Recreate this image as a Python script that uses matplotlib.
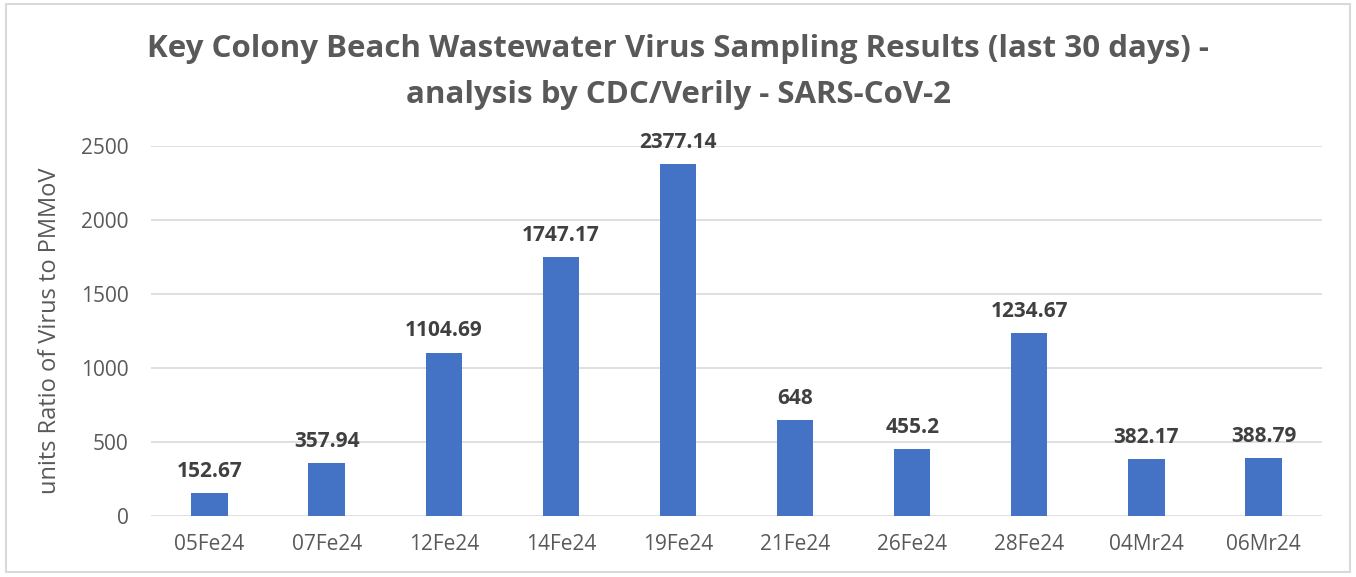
import matplotlib.pyplot as plt
from matplotlib.patches import Rectangle

dates = ['05Fe24', '07Fe24', '12Fe24', '14Fe24', '19Fe24', '21Fe24',
         '26Fe24', '28Fe24', '04Mr24', '06Mr24']
values = [152.67, 357.94, 1104.69, 1747.17, 2377.14, 648,
          455.2, 1234.67, 382.17, 388.79]
labels = ['152.67', '357.94', '1104.69', '1747.17', '2377.14', '648',
          '455.2', '1234.67', '382.17', '388.79']
yticks = [0, 500, 1000, 1500, 2000, 2500]

plt.rcParams['font.family'] = ['Open Sans', 'DejaVu Sans']

fig = plt.figure(figsize=(13.56, 5.77), dpi=100)
ax = fig.add_axes([151 / 1356, 1 - 516 / 577, 1171 / 1356, 370 / 577])

x = range(len(dates))
ax.bar(x, values, width=0.31, color='#4472C4', zorder=3)
for i, (v, t) in enumerate(zip(values, labels)):
    ax.annotate(t, xy=(i, v), xytext=(0, 8), textcoords='offset points',
                ha='center', va='bottom', fontsize=15, fontweight='bold',
                color='#404040', zorder=4)

ax.set_xlim(-0.5, len(dates) - 0.5)
ax.set_ylim(0, 2500)
ax.set_yticks(yticks)
ax.set_xticks(list(x))
ax.set_xticklabels(dates)
ax.tick_params(axis='both', length=0, labelsize=15, labelcolor='#595959')
ax.tick_params(axis='x', pad=13)
ax.tick_params(axis='y', pad=16)
ax.grid(axis='y', color='#d9d9d9', linewidth=1.2, zorder=0)
for s in ax.spines.values():
    s.set_visible(False)
ax.set_ylabel('units Ratio of Virus to PMMoV', fontsize=17, color='#595959', labelpad=14)

fig.text(0.5, 1 - 57 / 577, 'Key Colony Beach Wastewater Virus Sampling Results (last 30 days) -',
         ha='center', va='baseline', fontsize=22.5, fontweight='bold', color='#595959')
fig.text(0.5, 1 - 103 / 577, 'analysis by CDC/Verily - SARS-CoV-2',
         ha='center', va='baseline', fontsize=22.5, fontweight='bold', color='#595959')

fig.patches.append(Rectangle((6 / 1356, 5 / 577), 1344 / 1356, 568 / 577,
                             transform=fig.transFigure, fill=False,
                             edgecolor='#d9d9d9', linewidth=1.5))

plt.savefig('out.png')
